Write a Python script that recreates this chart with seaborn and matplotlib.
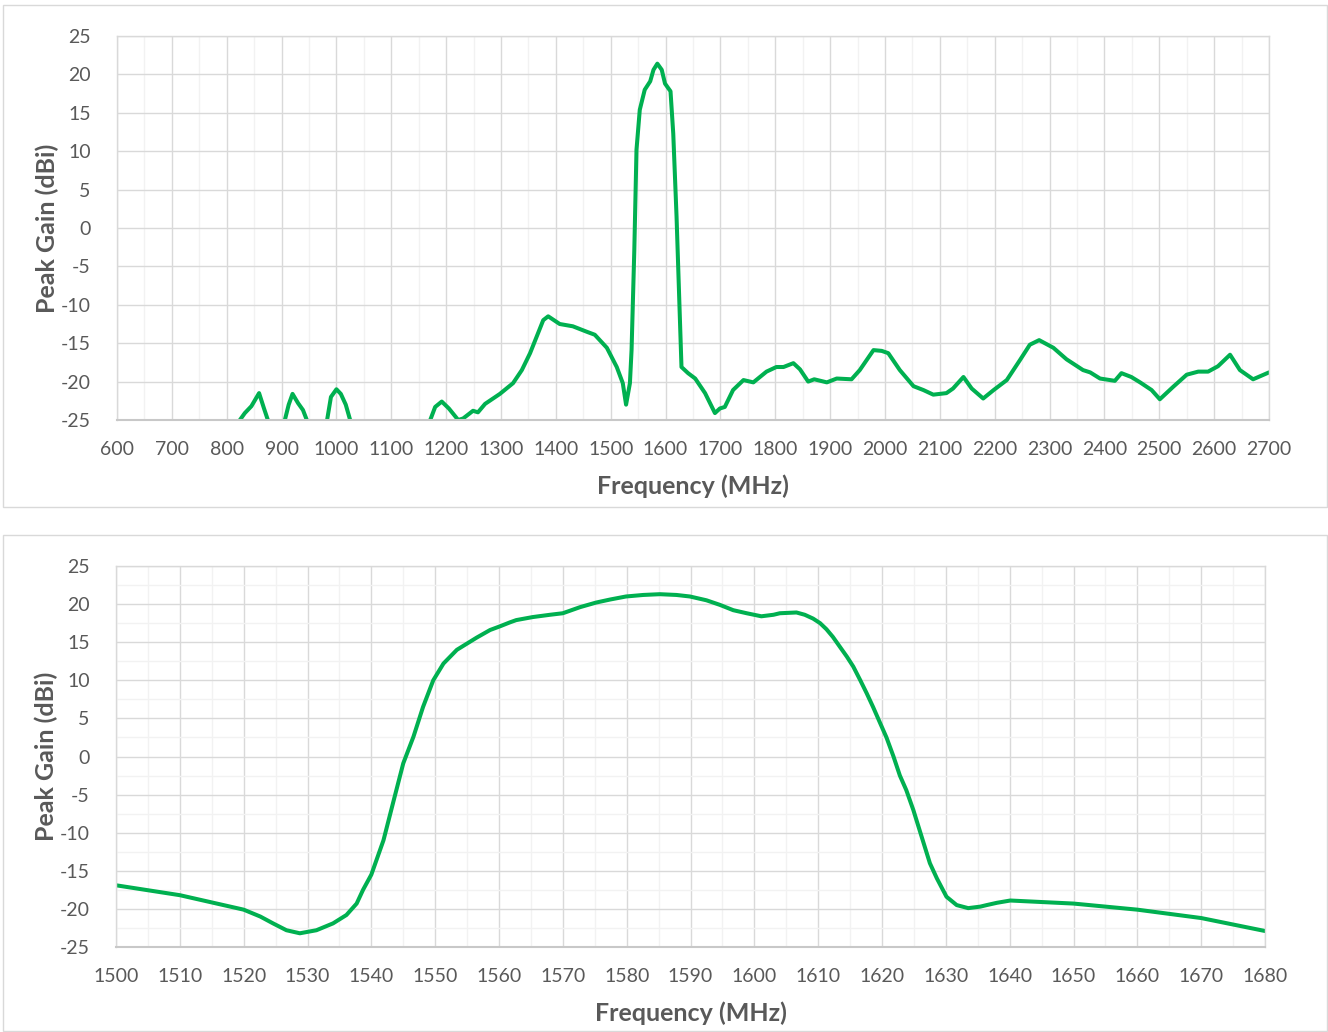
import numpy as np
import pandas as pd
import matplotlib
matplotlib.use("Agg")
import matplotlib.pyplot as plt
import seaborn as sns
from matplotlib.patches import Rectangle
from matplotlib.ticker import MultipleLocator

# ---- data: wide sweep (values below -25 are outside the visible range) ----
freq_wide = [600, 700, 800, 824, 833, 845, 859, 868, 875, 890, 906, 913, 920, 930,
             939, 946, 965, 983, 990, 1000, 1008, 1017, 1025, 1100, 1171, 1180, 1192,
             1205, 1222, 1231, 1249, 1258, 1271, 1298, 1322, 1338, 1353, 1377, 1386,
             1407, 1431, 1456, 1471, 1493, 1511, 1522, 1528, 1535, 1538, 1543, 1547,
             1553, 1562, 1572, 1578, 1585, 1593, 1599, 1609, 1614, 1620, 1625, 1629,
             1641, 1654, 1672, 1690, 1699, 1708, 1723, 1742, 1760, 1784, 1802, 1815,
             1833, 1845, 1860, 1871, 1894, 1912, 1939, 1954, 1979, 1994, 2006, 2027,
             2052, 2070, 2088, 2112, 2124, 2143, 2158, 2179, 2198, 2222, 2246, 2264,
             2281, 2307, 2331, 2361, 2374, 2392, 2419, 2431, 2449, 2465, 2486, 2501,
             2525, 2550, 2571, 2589, 2607, 2629, 2647, 2671, 2700]
gain_wide = [-32, -30, -28, -25.0, -24.1, -23.2, -21.5, -23.5, -25.0, -28, -25.0, -23.0,
             -21.6, -22.8, -23.7, -25.0, -28, -25.0, -22.0, -21.0, -21.6, -23.0, -25.0,
             -30, -25.0, -23.3, -22.6, -23.5, -25.0, -24.8, -23.8, -24.0, -22.9, -21.6,
             -20.2, -18.5, -16.3, -12.0, -11.5, -12.5, -12.8, -13.5, -13.9, -15.6,
             -18.1, -20.2, -23.0, -20.2, -15.9, -2.9, 10.2, 15.4, 18.0, 19.1, 20.6,
             21.4, 20.6, 18.8, 17.8, 12.3, 1.5, -9.4, -18.1, -18.9, -19.6, -21.5,
             -24.1, -23.5, -23.3, -21.1, -19.8, -20.1, -18.7, -18.1, -18.1, -17.6,
             -18.4, -20.0, -19.7, -20.1, -19.6, -19.7, -18.5, -15.9, -16.0, -16.3,
             -18.5, -20.6, -21.1, -21.7, -21.5, -20.9, -19.4, -20.9, -22.2, -21.1,
             -19.8, -17.2, -15.2, -14.6, -15.6, -17.1, -18.5, -18.8, -19.6, -19.9,
             -18.9, -19.4, -20.1, -21.1, -22.3, -20.7, -19.1, -18.7, -18.7, -18.0,
             -16.5, -18.5, -19.7, -18.8]

# ---- data: zoomed band ----
freq_zoom = [1500, 1510, 1520, 1522.6, 1524.6, 1526.7, 1528.8, 1531.4, 1534, 1536.1,
             1537.7, 1538.7, 1540, 1541.9, 1543.4, 1545.0, 1546.6, 1548.1, 1549.7,
             1551.3, 1553.4, 1556.5, 1558.6, 1560.2, 1561.7, 1562.7, 1565.3, 1568,
             1570, 1572.7, 1575.2, 1577.4, 1579.9, 1582.6, 1585.2, 1587.8, 1589.9,
             1592.5, 1594.6, 1596.7, 1598.8, 1601.1, 1603, 1604, 1606.6, 1607.9,
             1609.2, 1610.3, 1611.3, 1612.3, 1613.4, 1614.5, 1615.5, 1616.6, 1617.6,
             1618.6, 1619.7, 1620.7, 1621.8, 1622.8, 1623.8, 1624.9, 1626.2, 1627.5,
             1628.6, 1630.1, 1631.7, 1633.5, 1635.4, 1636.4, 1638.0, 1640.1, 1650,
             1660, 1670, 1680]
gain_zoom = [-16.9, -18.2, -20.1, -21.0, -21.9, -22.8, -23.2, -22.8, -21.9, -20.8,
             -19.3, -17.5, -15.5, -11.0, -6.1, -0.9, 2.6, 6.5, 10.0,
             12.2, 14.0, 15.6, 16.6, 17.1, 17.6, 17.9, 18.3, 18.6,
             18.8, 19.6, 20.2, 20.6, 21.0, 21.2, 21.3, 21.2, 21.0,
             20.5, 19.9, 19.2, 18.8, 18.4, 18.6, 18.8, 18.9, 18.6,
             18.1, 17.5, 16.7, 15.7, 14.4, 13.1, 11.8, 10.0, 8.3,
             6.5, 4.4, 2.5, 0.0, -2.5, -4.4, -7.0, -10.5, -14.0,
             -16.0, -18.4, -19.5, -19.9, -19.7, -19.5, -19.2, -18.9, -19.3,
             -20.1, -21.2, -22.9]

x_label = "Frequency (MHz)"
y_label = "Peak Gain (dBi)"

LINE = "#00B050"
TXT = "#595959"
MAJ = "#d9d9d9"
MIN = "#f2f2f2"

sns.set_theme(style="white")
plt.rcParams["font.family"] = ["Lato", "DejaVu Sans"]
plt.rcParams["axes.unicode_minus"] = False

W, H = 1328, 1032
fig = plt.figure(figsize=(W / 100, H / 100), dpi=100)

# chart-area frames
for (y0, y1) in [(5, 507), (535, 1031)]:
    fig.patches.append(Rectangle((3 / W, 1 - y1 / H), (W - 4) / W, (y1 - y0) / H,
                                 transform=fig.transFigure, fill=False,
                                 edgecolor="#d9d9d9", linewidth=1.0))

def px_axes(l, t, r, b):
    return fig.add_axes([l / W, 1 - b / H, (r - l) / W, (b - t) / H])

ax1 = px_axes(117, 36, 1269, 420)
ax2 = px_axes(116, 566, 1265, 947)

df1 = pd.DataFrame({"f": freq_wide, "g": gain_wide})
df2 = pd.DataFrame({"f": freq_zoom, "g": gain_zoom})
sns.lineplot(data=df1, x="f", y="g", ax=ax1, color=LINE, linewidth=2.9,
             estimator=None, sort=False)
sns.lineplot(data=df2, x="f", y="g", ax=ax2, color=LINE, linewidth=2.9,
             estimator=None, sort=False)
for ax in (ax1, ax2):
    for ln in ax.lines:
        ln.set_solid_joinstyle("round")
        ln.set_solid_capstyle("round")

def style(ax, xlim, xmaj, xmin, ymin_step):
    ax.set_xlim(*xlim)
    ax.set_ylim(-25, 25)
    ax.xaxis.set_major_locator(MultipleLocator(xmaj))
    ax.xaxis.set_minor_locator(MultipleLocator(xmin))
    ax.yaxis.set_major_locator(MultipleLocator(5))
    if ymin_step:
        ax.yaxis.set_minor_locator(MultipleLocator(ymin_step))
        ax.grid(True, which="minor", axis="y", color=MIN, linewidth=1.0)
    ax.grid(True, which="minor", axis="x", color=MIN, linewidth=1.0)
    ax.grid(True, which="major", color=MAJ, linewidth=1.0)
    ax.set_axisbelow(True)
    for s in ax.spines.values():
        s.set_color(MAJ)
        s.set_linewidth(1.0)
    ax.spines["bottom"].set_color("#c8c8c8")
    ax.spines["bottom"].set_linewidth(1.5)
    ax.tick_params(which="both", length=0, colors=TXT, labelsize=14)
    ax.tick_params(axis="x", pad=15)
    ax.tick_params(axis="y", pad=19)
    ax.set_xlabel(x_label, fontsize=18, fontweight="bold", color=TXT, labelpad=12)
    ax.set_ylabel(y_label, fontsize=18, fontweight="bold", color=TXT, labelpad=1)

style(ax1, (600, 2700), 100, 50, None)
style(ax2, (1500, 1680), 10, 5, 2.5)

fig.savefig("out.png", dpi=100, facecolor="white")
